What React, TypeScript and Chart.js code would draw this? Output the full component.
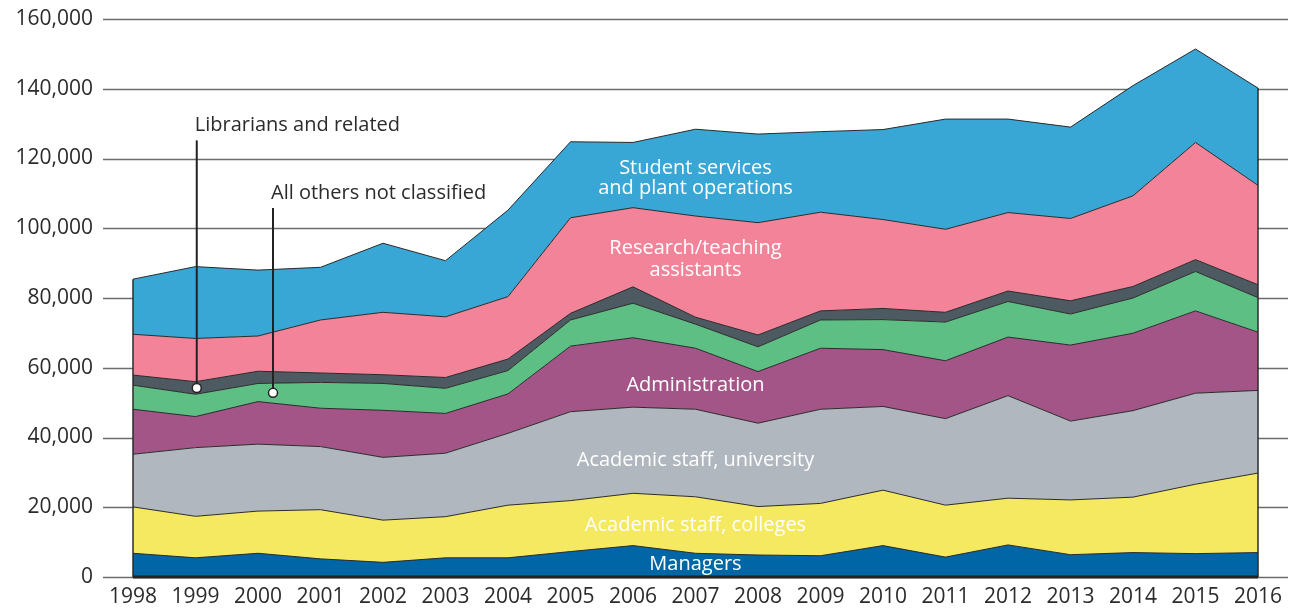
import React, { useEffect, useRef } from "react";
import { Chart, registerables } from "chart.js";

Chart.register(...registerables);

const years = ["1998","1999","2000","2001","2002","2003","2004","2005","2006","2007","2008","2009","2010","2011","2012","2013","2014","2015","2016"];

const managers = [6800,5500,6800,5200,4200,5500,5500,7300,9000,6800,6300,6100,9000,5700,9200,6400,7000,6700,7000];
const academicColleges = [13300,11900,12100,14100,12100,11800,15100,14600,15000,16200,13900,15000,15900,14900,13400,15700,15900,19900,22800];
const academicUniversity = [15100,19700,19200,18100,18000,18200,20600,25500,24700,25100,23900,27000,24000,24800,29400,22600,24800,26100,23700];
const administration = [12900,8900,12200,11000,13500,11400,11300,18800,19900,17500,14800,17500,16300,16600,16800,21800,22200,23600,16700];
const allOthers = [6900,6400,5200,7400,7700,7200,6700,7500,9900,6900,7100,8100,8600,11100,10200,8900,10100,11300,9900];
const librarians = [2900,3600,3500,2700,2500,3100,3300,1900,4700,2000,3400,2600,3200,2800,3000,3800,3300,3400,3700];
const researchAssistants = [11700,12400,10100,15200,17900,17400,17900,27400,22700,29000,32200,28300,25500,23800,22500,23600,26000,33600,28500];
const studentServices = [15800,20600,18900,15100,19800,16100,24800,21800,18700,24900,25400,23100,25800,31600,26800,26200,31600,26800,27900];

const yTicks = [0,20000,40000,60000,80000,100000,120000,140000,160000];

const seriesNames = [
  "Managers",
  "Academic staff, colleges",
  "Academic staff, university",
  "Administration",
  "All others not classified",
  "Librarians and related",
  "Research/teaching assistants",
  "Student services and plant operations",
];
const seriesData = [managers, academicColleges, academicUniversity, administration, allOthers, librarians, researchAssistants, studentServices];
const seriesColors = ["#0066a6","#f4e960","#b0b7be","#a35588","#5ebf84","#4d5a62","#f28399","#38a7d6"];

// in-area labels: text lines, x index, y values
const areaLabels = [
  { lines: ["Student services", "and plant operations"], x: 9, y: [117300, 111500] },
  { lines: ["Research/teaching", "assistants"], x: 9, y: [94300, 88000] },
  { lines: ["Administration"], x: 9, y: [55100] },
  { lines: ["Academic staff, university"], x: 9, y: [33500] },
  { lines: ["Academic staff, colleges"], x: 9, y: [14900] },
  { lines: ["Managers"], x: 9, y: [3700] },
];

const callouts = [
  { text: "Librarians and related", x: 1.02, textY: 129600, lineTop: 125200, dotY: 54200 },
  { text: "All others not classified", x: 2.24, textY: 110100, lineTop: 105800, dotY: 52800 },
];

const FONT = "'Open Sans', 'Noto Sans', sans-serif";

const decorPlugin = {
  id: "decor",
  beforeDatasetsDraw(chart: any) {
    const { ctx, chartArea, scales } = chart;
    const y = scales.y;
    ctx.save();
    ctx.strokeStyle = "#6b6b6b";
    ctx.lineWidth = 1.5;
    for (const t of yTicks) {
      const py = Math.round(y.getPixelForValue(t)) + 0.5;
      ctx.beginPath();
      ctx.moveTo(chartArea.left - 30, py);
      ctx.lineTo(chart.width - 6, py);
      ctx.stroke();
    }
    ctx.restore();
  },
  afterDatasetsDraw(chart: any) {
    const { ctx, scales } = chart;
    const x = scales.x;
    const y = scales.y;
    const n = years.length;
    const total = (i: number) => seriesData.reduce((s, arr) => s + arr[i], 0);
    ctx.save();
    ctx.strokeStyle = "#2b2b2b";
    ctx.lineWidth = 1.5;
    for (const i of [0, n - 1]) {
      const px = x.getPixelForValue(i);
      ctx.beginPath();
      ctx.moveTo(px, y.getPixelForValue(0));
      ctx.lineTo(px, y.getPixelForValue(total(i)));
      ctx.stroke();
    }
    ctx.strokeStyle = "#222";
    ctx.lineWidth = 3;
    const by = y.getPixelForValue(0);
    ctx.beginPath();
    ctx.moveTo(x.getPixelForValue(0), by);
    ctx.lineTo(x.getPixelForValue(n - 1), by);
    ctx.stroke();

    ctx.fillStyle = "#ffffff";
    ctx.font = `20px ${FONT}`;
    ctx.textAlign = "center";
    ctx.textBaseline = "middle";
    for (const l of areaLabels) {
      l.lines.forEach((t, k) => {
        ctx.fillText(t, x.getPixelForValue(l.x), y.getPixelForValue(l.y[k]));
      });
    }

    for (const c of callouts) {
      const px = x.getPixelForValue(c.x);
      ctx.strokeStyle = "#222";
      ctx.lineWidth = 2;
      ctx.beginPath();
      ctx.moveTo(px, y.getPixelForValue(c.lineTop));
      ctx.lineTo(px, y.getPixelForValue(c.dotY));
      ctx.stroke();
      ctx.beginPath();
      ctx.arc(px, y.getPixelForValue(c.dotY), 4.5, 0, Math.PI * 2);
      ctx.fillStyle = "#ffffff";
      ctx.fill();
      ctx.lineWidth = 1.5;
      ctx.stroke();
      ctx.fillStyle = "#2b2b2b";
      ctx.textAlign = "left";
      ctx.font = `20px ${FONT}`;
      ctx.fillText(c.text, px - 2, y.getPixelForValue(c.textY));
    }
    ctx.restore();
  },
};

export default function App() {
  const ref = useRef<HTMLCanvasElement | null>(null);
  useEffect(() => {
    if (!ref.current) return;
    const chart = new Chart(ref.current, {
      type: "line",
      data: {
        labels: years,
        datasets: seriesData.map((d, i) => ({
          label: seriesNames[i],
          data: d,
          backgroundColor: seriesColors[i],
          borderColor: "#2b2b2b",
          borderWidth: 1,
          pointRadius: 0,
          tension: 0,
          fill: i === 0 ? "origin" : "-1",
        })),
      },
      options: {
        animation: false,
        responsive: false,
        maintainAspectRatio: false,
        layout: { padding: { left: 0, right: 36, top: 19, bottom: 0 } },
        plugins: { legend: { display: false }, tooltip: { enabled: false } },
        scales: {
          x: {
            offset: false,
            grid: { display: false, drawTicks: false },
            border: { display: false },
            ticks: { color: "#2b2b2b", font: { family: FONT, size: 21 }, padding: 7, maxRotation: 0, autoSkip: false },
            afterFit: (s: any) => { s.height = 33; s.paddingLeft = 0; s.paddingRight = 0; },
          },
          y: {
            stacked: true,
            min: 0,
            max: 160000,
            grid: { display: false, drawTicks: false },
            border: { display: false },
            afterBuildTicks: (s: any) => { s.ticks = yTicks.map((v) => ({ value: v })); },
            ticks: {
              color: "#2b2b2b",
              font: { family: FONT, size: 21 },
              padding: 40,
              callback: (v: any) => Number(v).toLocaleString("en-US"),
            },
            afterFit: (s: any) => { s.width = 133; s.paddingTop = 0; s.paddingBottom = 0; },
          },
        },
      },
      plugins: [decorPlugin],
    });
    return () => chart.destroy();
  }, []);
  return (
    <div style={{ position: "fixed", left: 0, top: 0, width: 1294, height: 610, background: "#fff" }}>
      <canvas ref={ref} width={1294} height={610} style={{ width: 1294, height: 610 }} />
    </div>
  );
}
